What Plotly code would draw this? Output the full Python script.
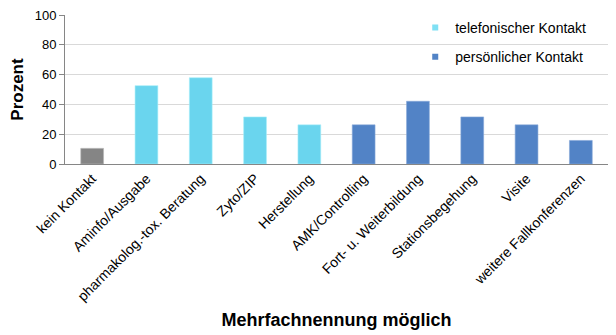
import plotly.graph_objects as go

categories = ["kein Kontakt", "Aminfo/Ausgabe", "pharmakolog.-tox. Beratung", "Zyto/ZIP",
              "Herstellung", "AMK/Controlling", "Fort- u. Weiterbildung", "Stationsbegehung",
              "Visite", "weitere Fallkonferenzen"]
kein_cats = ["kein Kontakt"]
kein_vals = [10.5]
tel_cats = ["Aminfo/Ausgabe", "pharmakolog.-tox. Beratung", "Zyto/ZIP", "Herstellung"]
tel_vals = [52.6, 57.9, 31.6, 26.3]
pers_cats = ["AMK/Controlling", "Fort- u. Weiterbildung", "Stationsbegehung", "Visite",
             "weitere Fallkonferenzen"]
pers_vals = [26.3, 42.1, 31.6, 26.3, 15.8]
y_ticks = [0, 20, 40, 60, 80, 100]

font = "Liberation Sans, Arial, sans-serif"
tel_color = "#6ad5ee"
pers_color = "#5283c6"

fig = go.Figure()
fig.add_trace(go.Bar(x=kein_cats, y=kein_vals, name="kein Kontakt", showlegend=False,
                     marker=dict(color="#858585", line=dict(color="#b5b5b5", width=0.6)), width=0.42))
fig.add_trace(go.Bar(x=tel_cats, y=tel_vals, name="telefonischer Kontakt", showlegend=False,
                     marker=dict(color=tel_color, line=dict(color="#a8eef9", width=0.6)), width=0.42))
fig.add_trace(go.Bar(x=pers_cats, y=pers_vals, name="persönlicher Kontakt", showlegend=False,
                     marker=dict(color=pers_color, line=dict(color="#86a8d8", width=0.6)), width=0.42))
# legend entries with small square markers
fig.add_trace(go.Scatter(x=[None], y=[None], mode="markers", name="telefonischer Kontakt",
                         legendgroup="a", marker=dict(symbol="square", size=6, color="#7fe0f4")))
fig.add_trace(go.Scatter(x=[None], y=[None], mode="markers", name="persönlicher Kontakt",
                         legendgroup="b", marker=dict(symbol="square", size=6, color=pers_color)))

fig.update_layout(
    width=616, height=335,
    margin=dict(l=65, r=8, t=13, b=171),
    paper_bgcolor="white", plot_bgcolor="white",
    font=dict(family=font, size=13, color="#000000"),
    barmode="overlay",
    showlegend=True,
    legend=dict(x=0.645, y=1.02, xanchor="left", yanchor="top", bgcolor="rgba(0,0,0,0)",
                font=dict(size=14, family=font), tracegroupgap=8, traceorder="grouped",
                itemwidth=30),
    xaxis=dict(categoryorder="array", categoryarray=categories, tickangle=-45,
               showline=True, linecolor="#868686", linewidth=1, ticks="",
               tickfont=dict(size=14, family=font),
               title=dict(text="<b>Mehrfachnennung möglich</b>", font=dict(size=18, family=font), standoff=10)),
    yaxis=dict(range=[0, 100], tickvals=y_ticks, showgrid=True, gridcolor="#d9d9d9", gridwidth=1,
               showline=True, linecolor="#868686", linewidth=1, ticks="outside", ticklen=5,
               tickcolor="#868686", zeroline=False, tickfont=dict(size=13, family=font),
               title=dict(text="<b>Prozent</b>", font=dict(size=17, family=font), standoff=6)),
)

fig.write_html("out.html")
